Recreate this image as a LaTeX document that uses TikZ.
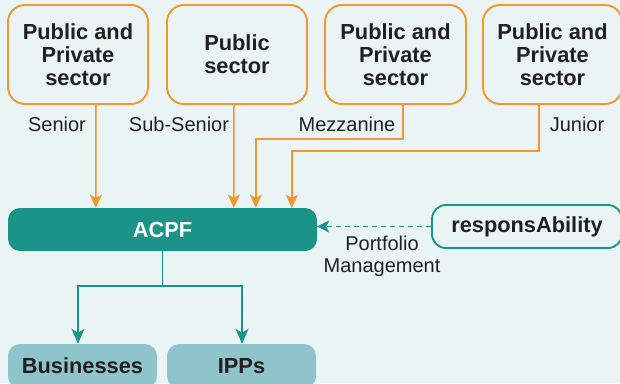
\documentclass[tikz,border=0pt]{standalone}
\usepackage{fontspec}
\setmainfont{Liberation Sans}
\usepackage{xcolor}
\usepackage{tikz}
\usetikzlibrary{arrows.meta, calc}
\definecolor{FundBack}{RGB}{234, 244, 245}
\definecolor{FundOrange}{RGB}{242, 150, 46}
\definecolor{FundTeal}{RGB}{26, 148, 137}
\definecolor{FundLight}{RGB}{143, 196, 202}
\definecolor{FundText}{RGB}{35, 31, 32}

\begin{document}
\begin{tikzpicture}[x=1pt, y=-1pt,
  sourcebox/.style={rounded corners=17pt, draw=FundOrange, line width=1.9pt, fill=FundBack,
        minimum width=140pt, minimum height=99pt, align=center, text=FundText,
        font=\fontsize{21.8}{22.8}\selectfont\bfseries},
  targetbox/.style={rounded corners=12pt, fill=FundLight, minimum width=149pt,
        minimum height=44pt, text=FundText, font=\fontsize{21.8}{24}\selectfont\bfseries},
  tranche/.style={text=FundText, font=\fontsize{20}{22}\selectfont},
  feed/.style={draw=FundOrange, line width=1.5pt, -{Stealth[length=13pt, width=12pt, inset=3pt]}},
  split/.style={draw=FundTeal, line width=1.5pt, -{Stealth[length=15pt, width=13pt, inset=4pt]}}]
  \useasboundingbox[fill=FundBack] (0,0) rectangle (620,383);

  % investors
  \node[sourcebox] (pp1) at (78,54.5) {Public and\\Private\\sector};
  \node[sourcebox] (pub) at (237,54.5) {Public\\sector};
  \node[sourcebox, minimum width=141pt] (pp3) at (395.5,54.5) {Public and\\Private\\sector};
  \node[sourcebox, minimum width=139pt] (pp4) at (552.5,54.5) {Public and\\Private\\sector};

  % fund and manager
  \node[rounded corners=12pt, fill=FundTeal, minimum width=309pt, minimum height=43pt,
        text=white, font=\fontsize{21.8}{24}\selectfont\bfseries] (acpf) at (162.5,229.5) {ACPF};
  \node[rounded corners=14pt, draw=FundTeal, line width=1.9pt, fill=FundBack,
        minimum width=190pt, minimum height=43pt, text=FundText,
        font=\fontsize{21.8}{24}\selectfont\bfseries] (resp) at (527,226.5) {responsAbility};

  % investees
  \node[targetbox] (biz) at (82.5,366) {Businesses};
  \node[targetbox] (ipp) at (241.5,366) {IPPs};

  % tranches into the fund
  \coordinate (in1) at ($(acpf.north west)+(88,0)$);
  \coordinate (in2) at ($(acpf.north west)+(226,0)$);
  \coordinate (in3) at ($(acpf.north west)+(248,0)$);
  \coordinate (in4) at ($(acpf.north west)+(284,0)$);
  \draw[feed] ($(pp1.south)+(18,0)$) -- (in1);
  \draw[feed] ($(pub.south)+(-3,0)$) -- (in2);
  \draw[feed] ($(pp3.south)+(7.5,0)$) -- ++(0,34) -| (in3);
  \draw[feed] ($(pp4.south)+(-13.5,0)$) -- ++(0,46) -| (in4);

  \node[tranche] (senior) at (57,124) {Senior};
  \node[tranche] (subsenior) at (179,124) {Sub-Senior};
  \node[tranche] (mezz) at (347,124) {Mezzanine};
  \node[tranche] (junior) at (577,124) {Junior};

  % management
  \draw[FundTeal, line width=1.5pt, dash pattern=on 5pt off 4pt,
        -{Stealth[length=12pt, width=12pt, inset=3pt]}] (resp.west) -- (resp.west -| acpf.east);
  \node[tranche, align=center] (pm) at (382,256) {Portfolio\\Management};

  % investments
  \draw[split] (acpf.south) -- ++(0,35) -| ($(biz.north)+(-4.5,0)$);
  \draw[split] (acpf.south) -- ++(0,35) -| ($(ipp.north)+(0.5,0)$);
\end{tikzpicture}
\end{document}
